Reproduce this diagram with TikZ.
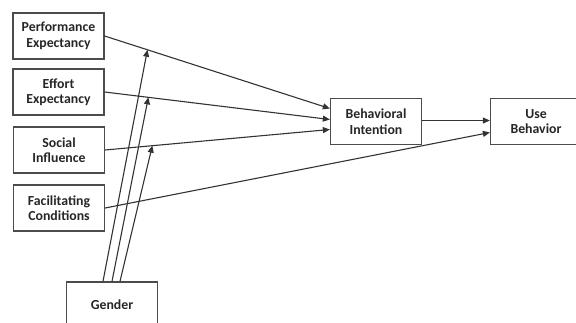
\documentclass[tikz,border=0pt]{standalone}
\usepackage{fontspec}
\setmainfont{Carlito}
\usetikzlibrary{arrows.meta}
\begin{document}
\begin{tikzpicture}[x=1pt,y=-1pt,
  box/.style={draw=black!70,line width=1.3pt,minimum width=91pt,minimum height=46pt,inner sep=0pt,align=center,font=\bfseries\fontsize{13.8}{15.5}\selectfont,text=black!85},
  arr/.style={draw=black!80,line width=1.1pt,-{Triangle[length=7pt,width=6pt]}}]
\useasboundingbox (0,0) rectangle (576,322);
\clip (0,0) rectangle (576,322);
\node[box] (pe) at (58.5,36) {Performance\\Expectancy};
\node[box] (ee) at (58.5,92) {Effort\\Expectancy};
\node[box] (si) at (59,150) {Social\\Influence};
\node[box] (fc) at (59,208) {Facilitating\\Conditions};
\node[box] (bi) at (376,121.5) {Behavioral\\Intention};
\node[box] (ub) at (536,121.5) {Use\\Behavior};
\node[box] (g) at (112,305) {Gender};
\coordinate (pein) at ([yshift=13pt]bi.west);
\coordinate (eein) at ([yshift=2pt]bi.west);
\coordinate (siin) at ([yshift=-8pt]bi.west);
\coordinate (ubin1) at ([yshift=1pt]ub.west);
\coordinate (ubin2) at ([yshift=-11pt]ub.west);
\draw[arr] (pe.east) -- coordinate[pos=0.19] (m1) (pein);
\draw[arr] (ee.east) -- coordinate[pos=0.194] (m2) (eein);
\draw[arr] (si.east) -- coordinate[pos=0.21] (m3) (siin);
\draw[arr] (fc.east) -- (ubin2);
\draw[arr] (bi.east |- ubin1) -- (ubin1);
\coordinate (g1) at ([xshift=-9pt]g.north);
\coordinate (g2) at ([xshift=0pt]g.north);
\coordinate (g3) at ([xshift=8pt]g.north);
\draw[arr] (g1) -- (m1);
\draw[arr] (g2) -- (m2);
\draw[arr] (g3) -- (m3);
\end{tikzpicture}
\end{document}
